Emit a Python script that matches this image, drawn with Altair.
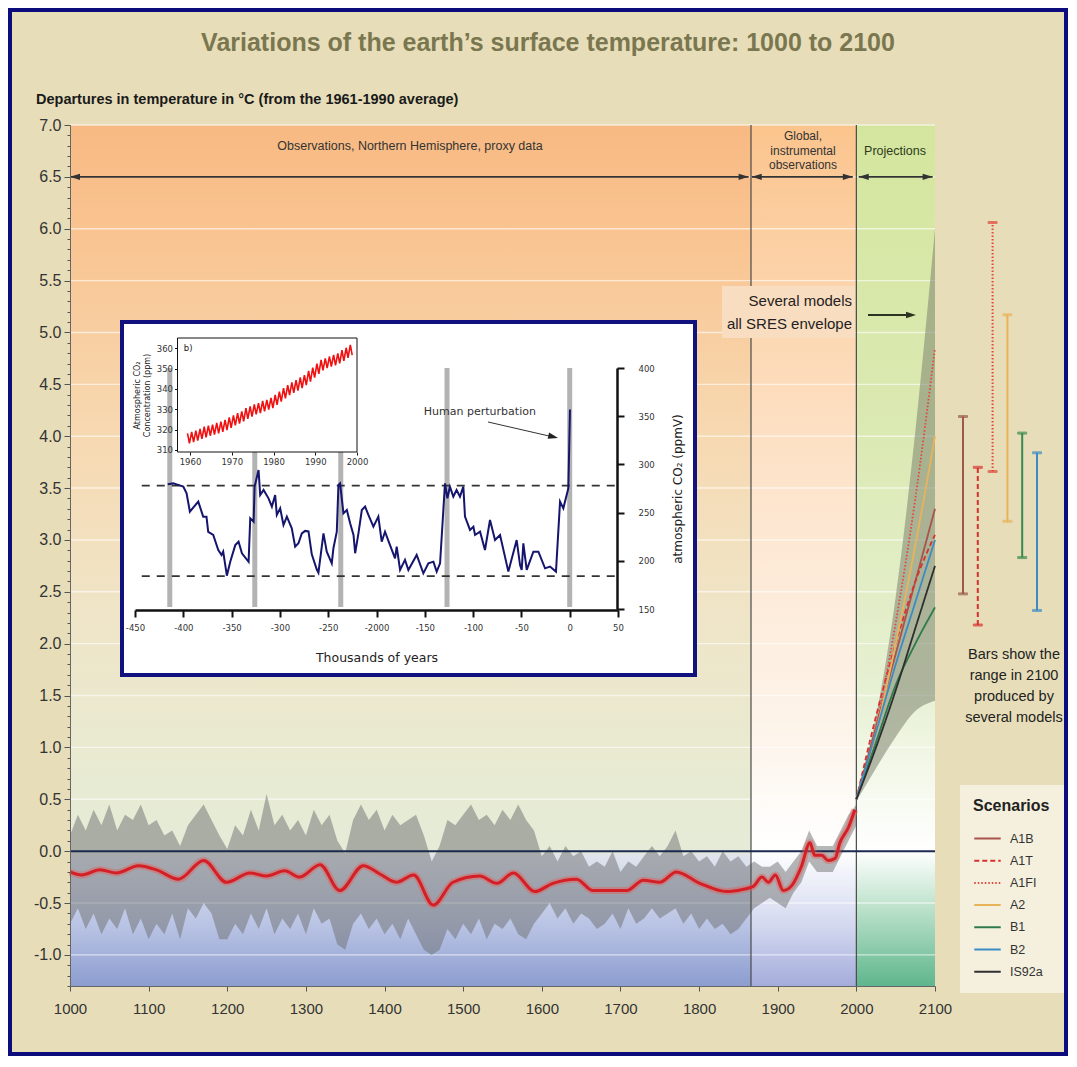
import altair as alt
import numpy as np
import pandas as pd

FONT = "Liberation Sans"
IFONT = "DejaVu Sans"
W, H = 865, 861

# ------------------------------------------------------------------ texts
TITLE = "Variations of the earth\u2019s surface temperature: 1000 to 2100"
SUBTITLE = "Departures in temperature in \u00b0C (from the 1961-1990 average)"

# ------------------------------------------------------------------ main chart data
x_ticks = list(range(1000, 2101, 100))
y_ticks = [-1.0, -0.5, 0.0, 0.5, 1.0, 1.5, 2.0, 2.5, 3.0, 3.5, 4.0, 4.5, 5.0, 5.5, 6.0, 6.5, 7.0]
panel_edges = [1000, 1866, 2000, 2100]
header_spans = [(1000, 1863), (1867, 1995.5), (2003, 2097)]

decades = list(range(1000, 2001, 10))
band_upper = [0.15, 0.35, 0.20, 0.40, 0.25, 0.45, 0.20, 0.35, 0.30, 0.45,
              0.25, 0.30, 0.15, 0.20, 0.05, 0.25, 0.35, 0.45, 0.30, 0.15,
              0.02, 0.25, 0.15, 0.40, 0.20, 0.55, 0.25, 0.35, 0.20, 0.30,
              0.15, 0.40, 0.25, 0.35, 0.10, -0.02, 0.30, 0.45, 0.30, 0.40,
              0.20, 0.35, 0.25, 0.30, 0.35, 0.15, -0.10, 0.05, 0.30, 0.25,
              0.35, 0.45, 0.30, 0.35, 0.25, 0.40, 0.30, 0.45, 0.30, 0.20,
              -0.05, 0.05, -0.10, 0.05, -0.05, 0.00, -0.15, -0.10, -0.15, 0.00,
              -0.20, -0.10, -0.15, -0.05, 0.05, -0.05, 0.05, 0.20, -0.05, 0.00,
              -0.10, -0.05, -0.15, 0.00, -0.10, -0.05, -0.15, -0.10, -0.15, -0.15,
              -0.10, -0.20, -0.10, 0.00, 0.20, 0.05, 0.05, 0.05, 0.20, 0.35,
              0.45]
band_lower = [-0.70, -0.55, -0.75, -0.60, -0.80, -0.65, -0.75, -0.55, -0.80, -0.65,
              -0.85, -0.70, -0.80, -0.60, -0.85, -0.55, -0.65, -0.50, -0.60, -0.85,
              -0.85, -0.70, -0.80, -0.60, -0.75, -0.55, -0.80, -0.65, -0.75, -0.60,
              -0.80, -0.55, -0.70, -0.65, -0.90, -0.95, -0.70, -0.60, -0.75, -0.65,
              -0.80, -0.70, -0.85, -0.65, -0.80, -0.95, -1.00, -0.95, -0.75, -0.85,
              -0.70, -0.80, -0.65, -0.85, -0.70, -0.75, -0.65, -0.80, -0.85, -0.70,
              -0.60, -0.50, -0.65, -0.55, -0.70, -0.60, -0.65, -0.75, -0.70, -0.60,
              -0.75, -0.55, -0.70, -0.65, -0.55, -0.65, -0.60, -0.55, -0.70, -0.60,
              -0.75, -0.65, -0.75, -0.70, -0.80, -0.75, -0.65, -0.55, -0.50, -0.45,
              -0.50, -0.55, -0.40, -0.30, -0.10, -0.20, -0.20, -0.20, -0.05, 0.10,
              0.25]

smooth_years = [1000, 1015, 1038, 1059, 1087, 1110, 1138, 1170, 1199, 1229,
                1250, 1273, 1292, 1318, 1343, 1373, 1394, 1415, 1437, 1462,
                1487, 1521, 1543, 1564, 1591, 1614, 1644, 1665, 1708, 1729,
                1750, 1771, 1801, 1835, 1855, 1869, 1880, 1888, 1897, 1907,
                1918, 1930, 1941, 1947, 1956, 1964, 1973, 1979, 1990, 1998]
smooth_vals = [-0.20, -0.23, -0.18, -0.21, -0.14, -0.18, -0.27, -0.09, -0.30, -0.21,
               -0.24, -0.19, -0.25, -0.13, -0.38, -0.14, -0.22, -0.30, -0.23, -0.52,
               -0.30, -0.24, -0.31, -0.21, -0.39, -0.31, -0.27, -0.38, -0.38, -0.28,
               -0.30, -0.20, -0.31, -0.39, -0.37, -0.34, -0.25, -0.30, -0.23, -0.38,
               -0.33, -0.15, 0.08, -0.04, -0.04, -0.09, -0.07, 0.08, 0.23, 0.40]

scenarios = ["A1B", "A1T", "A1FI", "A2", "B1", "B2", "IS92a"]
scen_colors = ["#a9534b", "#d8312e", "#e2463d", "#e9b35a", "#2f7a4a", "#3b8cc4", "#2e2e2e"]
scen_dash = [[1, 0], [5, 3], [1.5, 2], [1, 0], [1, 0], [1, 0], [1, 0]]
proj_years = [2000, 2025, 2050, 2075, 2100]
proj_A1B = [0.5, 1.2, 1.9, 2.6, 3.3]
proj_A1T = [0.5, 1.3, 2.0, 2.6, 3.05]
proj_A1FI = [0.5, 1.2, 2.2, 3.4, 4.85]
proj_A2 = [0.5, 1.15, 2.0, 2.95, 4.0]
proj_B1 = [0.5, 1.05, 1.6, 2.0, 2.35]
proj_B2 = [0.5, 1.15, 1.8, 2.4, 3.0]
proj_IS92a = [0.5, 1.0, 1.55, 2.15, 2.75]
env_upper = [0.52, 1.3, 2.45, 4.05, 6.0]
env_lower = [0.48, 0.8, 1.1, 1.35, 1.45]

bar_scen = ["A1B", "A1T", "A1FI", "A2", "B1", "B2"]
bar_colors = ["#9b5a4c", "#d8312e", "#e2463d", "#e9b35a", "#3a8a50", "#3b8cc4"]
bar_low = [2.48, 2.18, 3.66, 3.18, 2.83, 2.32]
bar_high = [4.19, 3.70, 6.06, 5.17, 4.03, 3.84]

# ------------------------------------------------------------------ inset data (Vostok CO2)
inset_x_ticks = [-450, -400, -350, -300, -250, -200, -150, -100, -50, 0, 50]
inset_y_ticks = [150, 200, 250, 300, 350, 400]
interglacials = [-414, -326, -237, -127, 0]
co2_bounds = [184, 278]
vostok = [(-416.1, 279.3), (-410.3, 280.3), (-406.9, 279.3), (-400.0, 276.9), (-396.6, 270.0),
          (-393.2, 251.0), (-384.5, 261.4), (-379.4, 245.8), (-376.0, 245.8), (-374.2, 230.0),
          (-369.0, 226.8), (-363.8, 211.2), (-360.4, 206.0), (-358.7, 209.5), (-354.9, 184.6),
          (-351.4, 199.0), (-346.2, 216.3), (-342.8, 219.8), (-339.3, 207.7), (-332.4, 199.0),
          (-330.7, 244.0), (-327.2, 240.5), (-326.2, 276.9), (-322.1, 294.2), (-320.4, 268.3),
          (-316.9, 273.5), (-311.8, 264.8), (-308.3, 256.2), (-304.9, 268.3), (-303.2, 247.5),
          (-299.7, 254.4), (-296.3, 237.1), (-292.8, 245.8), (-287.7, 233.7), (-284.2, 214.7),
          (-280.8, 218.2), (-277.3, 228.5), (-273.9, 231.0), (-270.4, 230.5), (-267.0, 206.7),
          (-261.9, 191.2), (-260.1, 187.7), (-254.9, 228.5), (-251.5, 209.5), (-246.3, 197.4),
          (-244.6, 213.0), (-241.1, 230.2), (-239.4, 278.6), (-237.7, 280.3), (-234.2, 249.2),
          (-230.7, 252.7), (-227.3, 238.9), (-223.8, 226.8), (-222.1, 207.8), (-218.7, 228.5),
          (-215.2, 252.7), (-211.8, 256.2), (-208.3, 247.5), (-203.2, 235.4), (-198.1, 245.8),
          (-194.6, 219.8), (-191.2, 230.2), (-186.0, 216.3), (-180.8, 202.5), (-179.1, 214.7),
          (-175.6, 190.5), (-170.5, 200.9), (-167.0, 190.5), (-158.4, 206.0), (-151.5, 187.0),
          (-146.3, 197.4), (-141.1, 199.1), (-137.7, 188.8), (-134.2, 197.4), (-129.1, 280.3),
          (-126.6, 264.8), (-124.0, 276.9), (-120.5, 266.6), (-117.1, 273.5), (-113.6, 266.6),
          (-110.1, 276.9), (-108.4, 245.8), (-103.2, 232.0), (-99.7, 235.4), (-98.0, 226.8),
          (-92.8, 230.2), (-87.7, 211.2), (-82.5, 242.3), (-77.3, 221.5), (-72.1, 226.8),
          (-63.5, 188.8), (-54.9, 221.5), (-51.4, 195.6), (-49.7, 190.5), (-48.0, 218.2),
          (-44.5, 190.5), (-37.6, 209.5), (-32.4, 209.5), (-25.5, 192.2), (-20.4, 194.0),
          (-14.2, 188.8), (-10.0, 261.4), (-6.6, 254.4), (-1.4, 275.2), (0.3, 357.0)]

# ------------------------------------------------------------------ small inset data (Mauna Loa)
mlo_x_ticks = [1960, 1970, 1980, 1990, 2000]
mlo_y_ticks = [310, 320, 330, 340, 350, 360]
mlo_years = list(range(1959, 1999))
mlo_peak = [318.2, 318.9, 319.5, 320.3, 321.4, 322.0, 322.4, 323.3, 323.9, 324.8,
            326.0, 327.0, 328.1, 329.0, 330.5, 331.4, 332.4, 333.0, 334.1, 334.6,
            335.6, 337.0, 338.7, 340.4, 341.8, 343.2, 344.3, 345.6, 346.8, 348.9,
            350.4, 352.4, 354.3, 355.0, 355.9, 356.7, 357.4, 359.0, 360.2, 361.6]
mlo_trough = [313.2, 313.9, 314.6, 315.4, 316.2, 317.0, 317.5, 318.2, 318.9, 319.8,
              320.9, 322.1, 323.0, 324.1, 325.3, 326.4, 327.5, 328.1, 329.0, 329.8,
              330.5, 332.1, 333.8, 335.3, 336.9, 338.1, 339.2, 340.4, 341.9, 343.6,
              345.5, 347.4, 349.1, 350.2, 351.0, 351.6, 352.5, 353.8, 355.3, 356.6]

# ------------------------------------------------------------------ helpers
one = alt.Data(values=[{"k": 0}])
MINUS = "\u2212"


def grad(stops):
    return alt.LinearGradient(gradient="linear", x1=0, x2=0, y1=0, y2=1,
                              stops=[alt.GradientStop(offset=o, color=c) for o, c in stops])


def txt(text, x, y, size=12, weight="normal", color="#222", align="center", font=FONT, lh=None):
    kw = dict(text=text, font=font, fontSize=size, fontWeight=weight, color=color,
              align=align, baseline="middle")
    if lh is not None:
        kw["lineBreak"] = "\n"
        kw["lineHeight"] = lh
    return alt.Chart(one).mark_text(**kw).encode(x=alt.value(x), y=alt.value(y))


def carrier(xscale, xaxis, xval, yscale, yaxis, yval):
    """invisible mark whose only job is to draw the axes of one panel"""
    return alt.Chart(one).mark_point(opacity=0).encode(
        x=alt.XDatum(xval, type="quantitative", scale=xscale, axis=xaxis),
        y=alt.YDatum(yval, type="quantitative", scale=yscale, axis=yaxis))


# ================================================================== MAIN GROUP
xs = alt.Scale(domain=[1000, 2100], nice=False, zero=False)
ys = alt.Scale(domain=[-1.3, 7.0], nice=False, zero=False)

main_x_axis = alt.Axis(values=x_ticks, format="d", title=None, grid=False, labelFont=FONT,
                       labelFontSize=15, labelColor="#333", tickColor="#555", domainColor="#666",
                       tickSize=5, labelPadding=10, zindex=1, labelFlush=False, labelOverlap=False,
                       orient="bottom")
main_y_axis = alt.Axis(values=y_ticks, format=".1f", title=None, grid=False, labelFont=FONT,
                       labelFontSize=16, labelColor="#333", tickColor="#555", domainColor="#666",
                       tickSize=6, labelPadding=3, zindex=1, labelOverlap=False, orient="left",
                       labelExpr="replace(datum.label, '" + MINUS + "', '-')")

left_stops = [(0, "#f8b982"), (0.15, "#f9c694"), (0.35, "#f7d8b0"), (0.55, "#f0e4c6"),
              (0.75, "#e8ebd2"), (0.843, "#e5ebd8"), (0.85, "#dfe3ee"), (0.93, "#b9c3e4"),
              (1, "#8c9dcf")]
mid_stops = [(0, "#fbc48d"), (0.2, "#fcd5ad"), (0.45, "#fde6d0"), (0.7, "#fdf4ea"),
             (0.843, "#ffffff"), (0.93, "#d3d8ef"), (1, "#a4acdb")]
right_stops = [(0, "#d4e69e"), (0.35, "#dbe9b2"), (0.65, "#e6f0d2"), (0.843, "#ffffff"),
               (0.9, "#c6e6d2"), (1, "#5fb68d")]
panel_stops = [left_stops, mid_stops, right_stops]

main_layers = []
for i in range(3):
    pdf = pd.DataFrame({"x0": [panel_edges[i]], "x1": [panel_edges[i + 1]],
                        "top": [7.0], "bot": [-1.3]})
    main_layers.append(
        alt.Chart(pdf).mark_rect(color=grad(panel_stops[i])).encode(
            x=alt.X("x0:Q", scale=xs, axis=None), x2="x1",
            y=alt.Y("top:Q", scale=ys, axis=None), y2="bot"))

# white grid lines
main_layers.append(
    alt.Chart(pd.DataFrame({"v": y_ticks})).mark_rule(color="white", strokeWidth=1.4, opacity=0.6)
    .encode(y=alt.Y("v:Q", scale=ys, axis=None), x=alt.value(0), x2=alt.value(W)))

# header arrows at 6.5
hdf = pd.DataFrame({"x0": [a for a, b in header_spans], "x1": [b for a, b in header_spans]})
main_layers.append(
    alt.Chart(hdf).mark_rule(color="#333", strokeWidth=1.6).encode(
        x=alt.X("x0:Q", scale=xs, axis=None), x2="x1",
        y=alt.YDatum(6.5, type="quantitative", scale=ys, axis=None)))
main_layers.append(
    alt.Chart(hdf).mark_point(shape="M0,0L2.5,-0.8L2.5,0.8Z", filled=True, size=64,
                              color="#333", opacity=1).encode(
        x=alt.X("x0:Q", scale=xs, axis=None),
        y=alt.YDatum(6.5, type="quantitative", scale=ys, axis=None)))
main_layers.append(
    alt.Chart(hdf).mark_point(shape="M0,0L-2.5,-0.8L-2.5,0.8Z", filled=True, size=64,
                              color="#333", opacity=1).encode(
        x=alt.X("x1:Q", scale=xs, axis=None),
        y=alt.YDatum(6.5, type="quantitative", scale=ys, axis=None)))

main_layers.append(txt("Observations, Northern Hemisphere, proxy data", 340, 21, size=12.5, color="#333"))
main_layers.append(txt("Global,\ninstrumental\nobservations", 733, 11, size=12, color="#333", lh=14.5))
main_layers.append(txt("Projections", 825, 26, size=12.5, color="#2d3a1c"))

# proxy / instrumental uncertainty band
band_df = pd.DataFrame({"year": decades, "upper": band_upper, "lower": band_lower})
main_layers.append(
    alt.Chart(band_df).mark_area(color="#6d7070", opacity=0.5).encode(
        x=alt.X("year:Q", scale=xs, axis=None),
        y=alt.Y("upper:Q", scale=ys, axis=None), y2="lower"))

# projection envelope
env_df = pd.DataFrame({"year": proj_years, "upper": env_upper, "lower": env_lower})
main_layers.append(
    alt.Chart(env_df).mark_area(color="#7d8470", opacity=0.55, interpolate="monotone").encode(
        x=alt.X("year:Q", scale=xs, axis=None),
        y=alt.Y("upper:Q", scale=ys, axis=None), y2="lower"))

# vertical boundaries
main_layers.append(
    alt.Chart(pd.DataFrame({"e": panel_edges[1:3]})).mark_rule(color="#4a4a4a", strokeWidth=1.2)
    .encode(x=alt.X("e:Q", scale=xs, axis=None),
            y=alt.YDatum(7.0, type="quantitative", scale=ys, axis=None),
            y2=alt.Y2Datum(-1.3)))

# "Several models" note
main_layers.append(
    alt.Chart(one).mark_rect(color="#f9ddc0").encode(
        x=alt.value(652), x2=alt.value(785), y=alt.value(161), y2=alt.value(213)))
main_layers.append(txt("Several models\nall SRES envelope", 782, 176, size=15, color="#222",
                       align="right", lh=23))
main_layers.append(
    alt.Chart(one).mark_rule(color="#2c3320", strokeWidth=2).encode(
        x=alt.value(798), x2=alt.value(840), y=alt.value(190)))
main_layers.append(
    alt.Chart(one).mark_point(shape="M0,0L-2.5,-0.8L-2.5,0.8Z", filled=True, size=64,
                              color="#2c3320", opacity=1).encode(
        x=alt.value(846), y=alt.value(190)))

# zero line
main_layers.append(
    alt.Chart(one).mark_rule(color="#1b2a4e", strokeWidth=2).encode(
        y=alt.YDatum(0.0, type="quantitative", scale=ys, axis=None),
        x=alt.value(0), x2=alt.value(W)))

# smoothed red curve
sm_df = pd.DataFrame({"year": smooth_years, "value": smooth_vals})
main_layers.append(
    alt.Chart(sm_df).mark_line(color="#e5605c", strokeWidth=7, opacity=0.45,
                               interpolate="monotone").encode(
        x=alt.X("year:Q", scale=xs, axis=None), y=alt.Y("value:Q", scale=ys, axis=None)))
main_layers.append(
    alt.Chart(sm_df).mark_line(color="#d41f26", strokeWidth=3, interpolate="monotone").encode(
        x=alt.X("year:Q", scale=xs, axis=None), y=alt.Y("value:Q", scale=ys, axis=None)))

# projection lines with legend
proj = {"A1B": proj_A1B, "A1T": proj_A1T, "A1FI": proj_A1FI, "A2": proj_A2,
        "B1": proj_B1, "B2": proj_B2, "IS92a": proj_IS92a}
proj_df = pd.DataFrame([{"year": y, "value": v, "scenario": s}
                        for s, vals in proj.items() for y, v in zip(proj_years, vals)])
legend_kw = dict(title="Scenarios", orient="none", legendX=890, legendY=660,
                 fillColor="#f5f0de", padding=13, titleFont=FONT, titleFontSize=16,
                 titleFontWeight="bold", titleColor="#222", titlePadding=10,
                 labelFont=FONT, labelFontSize=12.5, labelColor="#333", labelOffset=8,
                 symbolType="stroke", symbolSize=700, symbolStrokeWidth=2, rowPadding=1.2,
                 strokeColor="#f5f0de")
color_scale = alt.Scale(domain=scenarios, range=scen_colors)
dash_scale = alt.Scale(domain=scenarios, range=scen_dash)
main_layers.append(
    alt.Chart(proj_df).mark_line(strokeWidth=1.8, interpolate="monotone").encode(
        x=alt.X("year:Q", scale=xs, axis=None), y=alt.Y("value:Q", scale=ys, axis=None),
        color=alt.Color("scenario:N", scale=color_scale, legend=alt.Legend(**legend_kw)),
        strokeDash=alt.StrokeDash("scenario:N", scale=dash_scale, legend=alt.Legend(**legend_kw)),
        detail="scenario:N"))

# outside texts
main_layers.append(txt(TITLE, 478, -82, size=25, weight="bold", color="#7a7750"))
main_layers.append(txt(SUBTITLE, -34, -25, size=14.5, weight="bold", color="#1a1a1a", align="left"))
main_layers.append(txt("Bars show the\nrange in 2100\nproduced by\nseveral models", 944, 530,
                       size=14.5, color="#222", lh=21))
# page border
main_layers.append(
    alt.Chart(one).mark_rect(fill=None, stroke="#0c0c7c", strokeWidth=4).encode(
        x=alt.value(-60), x2=alt.value(996), y=alt.value(-115), y2=alt.value(929)))

main = alt.layer(*main_layers)

# ================================================================== INSET (Vostok)
kx = alt.Scale(domain=[-450, 50], range=[65, 548], nice=False, zero=False)
ky = alt.Scale(domain=[150, 400], range=[484, 243], nice=False, zero=False)
kx_axis = alt.Axis(orient="bottom", offset=-376, values=inset_x_ticks,
                   labelExpr="datum.value == -200 ? '-2000' : toString(datum.value)",
                   title="Thousands of years", titleFont=IFONT, titleFontSize=12.5,
                   titleFontWeight="normal", titleColor="#222", titlePadding=20,
                   labelFont=IFONT, labelFontSize=8.5, labelColor="#333", labelPadding=6,
                   tickSize=7, tickWidth=2, tickColor="#111", domainColor="#111", domainWidth=2.5,
                   grid=False, zindex=1, labelFlush=False, labelOverlap=False)
ky_axis = alt.Axis(orient="right", offset=-318, values=inset_y_ticks, format="d",
                   title="atmospheric CO\u2082 (ppmV)", titleAngle=270, titleFont=IFONT,
                   titleFontSize=12, titleFontWeight="normal", titleColor="#222", titlePadding=30,
                   labelFont=IFONT, labelFontSize=8.5, labelColor="#333", labelPadding=14,
                   tickSize=7, tickWidth=2, tickColor="#111", domainColor="#111", domainWidth=2.5,
                   grid=False, zindex=1, labelOverlap=False)

vdf = pd.DataFrame(vostok, columns=["kyr", "ppm"])
inset_layers = [
    alt.Chart(one).mark_rect(fill="white", stroke="#12127e", strokeWidth=4).encode(
        x=alt.value(52), x2=alt.value(625), y=alt.value(197), y2=alt.value(550)),
    alt.Chart(pd.DataFrame({"k": interglacials})).mark_rule(color="#b3b3b3", strokeWidth=5).encode(
        x=alt.X("k:Q", scale=kx, axis=None),
        y=alt.YDatum(152, type="quantitative", scale=ky, axis=None), y2=alt.Y2Datum(400)),
    alt.Chart(pd.DataFrame({"ppm": co2_bounds})).mark_rule(color="#333", strokeWidth=1.8,
                                                            strokeDash=[8, 7]).encode(
        y=alt.Y("ppm:Q", scale=ky, axis=None),
        x=alt.XDatum(-443, type="quantitative", scale=kx, axis=None), x2=alt.X2Datum(50)),
    alt.Chart(vdf).mark_line(color="#15156e", strokeWidth=2).encode(
        x=alt.X("kyr:Q", scale=kx, axis=None), y=alt.Y("ppm:Q", scale=ky, axis=None)),
    alt.Chart(one).mark_text(text="Human perturbation", font=IFONT, fontSize=11, color="#333",
                             align="center", baseline="middle").encode(
        x=alt.XDatum(-93, type="quantitative", scale=kx, axis=None),
        y=alt.YDatum(354, type="quantitative", scale=ky, axis=None)),
    alt.Chart(one).mark_rule(color="#333", strokeWidth=1).encode(
        x=alt.XDatum(-84.6, type="quantitative", scale=kx, axis=None), x2=alt.X2Datum(-15),
        y=alt.YDatum(344, type="quantitative", scale=ky, axis=None), y2=alt.Y2Datum(328)),
    alt.Chart(one).mark_point(shape="M0,0L-2.5,-0.8L-2.5,0.8Z", filled=True, size=64,
                              color="#222", opacity=1, angle=13).encode(
        x=alt.XDatum(-12, type="quantitative", scale=kx, axis=None),
        y=alt.YDatum(327.4, type="quantitative", scale=ky, axis=None)),
]
inset = alt.layer(*inset_layers)

# ================================================================== SMALL INSET (Mauna Loa)
mx = alt.Scale(domain=[1957, 2000], range=[107.5, 287], nice=False, zero=False)
my = alt.Scale(domain=[309, 365], range=[327, 213], nice=False, zero=False)
mx_axis = alt.Axis(orient="bottom", offset=-534, values=mlo_x_ticks, format="d", domain=False,
                   tickSize=3, tickColor="#111", labelFont=IFONT, labelFontSize=8.5,
                   labelColor="#333", labelPadding=2, title=None, grid=False, zindex=1,
                   labelFlush=False, labelOverlap=False)
my_axis = alt.Axis(orient="left", offset=-107.5, values=mlo_y_ticks, format="d", domain=False,
                   tickSize=3, tickColor="#111", labelFont=IFONT, labelFontSize=8.5,
                   labelColor="#333", labelPadding=2,
                   title=["Atmospheric CO\u2082", "Concentration (ppm)"], titleFont=IFONT,
                   titleFontSize=8, titleFontWeight="normal", titleColor="#222", titlePadding=5,
                   grid=False, zindex=1, labelOverlap=False)
mlo_rows = []
for yr, pk, tr in zip(mlo_years, mlo_peak, mlo_trough):
    mlo_rows.append({"t": yr + 0.4, "ppm": pk})
    mlo_rows.append({"t": yr + 0.85, "ppm": tr})
mlo_df = pd.DataFrame(mlo_rows)
small_layers = [
    alt.Chart(one).mark_rect(fill="white", stroke="#111", strokeWidth=1).encode(
        x=alt.XDatum(1957, type="quantitative", scale=mx, axis=None), x2=alt.X2Datum(2000),
        y=alt.YDatum(309, type="quantitative", scale=my, axis=None), y2=alt.Y2Datum(365)),
    alt.Chart(mlo_df).mark_line(color="#f01010", strokeWidth=1.6).encode(
        x=alt.X("t:Q", scale=mx, axis=None), y=alt.Y("ppm:Q", scale=my, axis=None)),
    alt.Chart(one).mark_text(text="b)", font=IFONT, fontSize=8.5, color="#222",
                             align="left", baseline="middle").encode(
        x=alt.XDatum(1958.5, type="quantitative", scale=mx, axis=None),
        y=alt.YDatum(360, type="quantitative", scale=my, axis=None)),
]
small = alt.layer(*small_layers)

# ================================================================== RANGE BARS (2100)
bx = alt.Scale(type="point", domain=bar_scen, range=[893, 967], padding=0)
bcol = alt.Scale(domain=bar_scen, range=bar_colors)
bdash = alt.Scale(domain=bar_scen, range=scen_dash[:6])
bar_df = pd.DataFrame({"scenario": bar_scen, "low": bar_low, "high": bar_high})
bars = alt.layer(
    alt.Chart(bar_df).mark_rule(strokeWidth=2).encode(
        x=alt.X("scenario:N", scale=bx, axis=None),
        y=alt.Y("low:Q", scale=ys, axis=None), y2="high",
        fill=alt.Fill("scenario:N", scale=bcol, legend=None),
        stroke=alt.Stroke("scenario:N", scale=bcol, legend=None),
        strokeDash=alt.StrokeDash("scenario:N", scale=dash_scale, legend=None)),
    alt.Chart(bar_df).transform_fold(["low", "high"], as_=["end", "v"]).mark_tick(
        thickness=2, size=9, orient="horizontal").encode(
        x=alt.X("scenario:N", scale=bx, axis=None),
        y=alt.Y("v:Q", scale=ys, axis=None),
        fill=alt.Fill("scenario:N", scale=bcol, legend=None),
        stroke=alt.Stroke("scenario:N", scale=bcol, legend=None)),
)

# ================================================================== axis carriers
minor_ticks = [round(v, 1) for v in np.arange(-1.3, 7.01, 0.1)]
minor = alt.Chart(one).mark_point(opacity=0).encode(
    y=alt.YDatum(0, type="quantitative", scale=ys,
                 axis=alt.Axis(values=minor_ticks, labels=False, tickSize=3, domain=False,
                               grid=False, title=None, orient="left", zindex=1,
                               tickColor="#555")))
main_axes = carrier(xs, main_x_axis, 1500, ys, main_y_axis, 0)
inset_axes = carrier(kx, kx_axis, -200, ky, ky_axis, 200)
small_axes = carrier(mx, mx_axis, 1980, my, my_axis, 330)

chart = alt.layer(main, inset, small, bars, minor, main_axes, inset_axes, small_axes).resolve_scale(
    x="independent", y="independent"
).properties(
    width=W, height=H,
    padding={"left": 62, "top": 117, "right": 133, "bottom": 70},
    autosize=alt.AutoSizeParams(type="none"),
    background="#e7deb9",
).configure_view(stroke=None)

chart.save("out.html", embed_options={"renderer": "svg", "actions": False})
